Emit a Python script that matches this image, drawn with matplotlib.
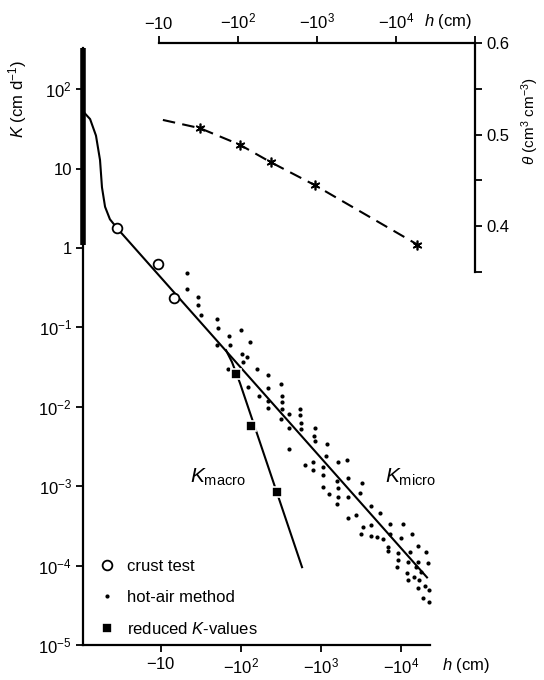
import matplotlib
matplotlib.use("Agg")
import matplotlib.pyplot as plt
from matplotlib.ticker import FixedLocator, NullLocator

plt.rcParams['font.family'] = ['Liberation Sans', 'DejaVu Sans']
plt.rcParams['mathtext.fontset'] = 'custom'
plt.rcParams['mathtext.rm'] = 'Liberation Sans'
plt.rcParams['mathtext.it'] = 'Liberation Sans:italic'
plt.rcParams['mathtext.bf'] = 'Liberation Sans:bold'

# --- K(h) curve (|h| in cm, K in cm/d) ---
k_curve_h = [1.09, 1.30, 1.54, 1.73, 1.83, 2.0, 2.3, 2.82, 21100]
k_curve_K = [51, 42, 26, 12.8, 5.8, 3.3, 2.3, 1.78, 7.1e-5]
k_sat_h = [1.06, 1.06]
k_sat_K = [1.1, 330]

k_macro_h = [64.9, 77.2, 97.2, 579]
k_macro_K = [0.0516, 0.0365, 0.0198, 9.55e-5]

crust_h = [2.82, 9.2, 14.5]
crust_K = [1.78, 0.625, 0.233]

reduced_h = [86.6, 133, 282]
reduced_K = [0.0257, 0.0057, 0.00084]

hot_air_h = [21, 21, 29, 29, 32, 50, 52, 100, 71, 50, 73, 130, 103, 119, 106, 69,
             158, 218, 122, 218, 316, 168, 325, 218, 325, 218, 325, 398, 316, 398,
             398, 546, 546, 562, 562, 841, 818, 841, 1190, 631, 794, 794, 1060,
             1150, 1630, 2110, 1060, 1060, 1585, 2175, 1630, 1260, 1630, 1585,
             2175, 3070, 3250, 2175, 2740, 4220, 5460, 3350, 4220, 3160, 4220,
             5010, 5960, 7290, 7290, 10600, 10000, 13700, 6880, 6880, 9170, 9170,
             8910, 12960, 16300, 20500, 12200, 16300, 15400, 17800, 21700, 11900,
             12200, 14500, 16800, 20000, 16300, 18800, 22400, 22400]
hot_air_K = [0.48, 0.30, 0.24, 0.19, 0.143, 0.127, 0.098, 0.092, 0.077, 0.060,
             0.060, 0.065, 0.046, 0.042, 0.0365, 0.0298, 0.0298, 0.025, 0.0177,
             0.0171, 0.0193, 0.0136, 0.0136, 0.0118, 0.0114, 0.0096, 0.0093,
             0.0081, 0.0070, 0.0054, 0.0029, 0.0093, 0.0078, 0.0062, 0.0052,
             0.0054, 0.0043, 0.0037, 0.0034, 0.00184, 0.0020, 0.00159, 0.00173,
             0.0024, 0.0020, 0.00212, 0.00138, 0.00097, 0.00116, 0.00126, 0.00094,
             0.00079, 0.00073, 0.00059, 0.00073, 0.00082, 0.00109, 0.000395,
             0.000431, 0.00056, 0.000457, 0.000305, 0.000323, 0.000248, 0.000234,
             0.000228, 0.000215, 0.000332, 0.000248, 0.000332, 0.000221, 0.000248,
             0.000152, 0.000171, 0.000143, 0.000117, 0.0000955, 0.000148, 0.000175,
             0.000148, 0.000110, 0.000110, 0.0000955, 0.0000826, 0.000107,
             0.0000802, 0.0000655, 0.0000714, 0.0000655, 0.0000551, 0.0000519,
             0.0000388, 0.0000346, 0.000049]
assert len(hot_air_h) == len(hot_air_K)

# --- theta(h) curve ---
theta_line_h = [11.2, 33, 105, 258, 930, 18600]
theta_line = [0.516, 0.507, 0.489, 0.470, 0.445, 0.380]
theta_star_h = [33, 105, 258, 930, 18600]
theta_star = [0.507, 0.489, 0.470, 0.445, 0.380]

k_ticks = [1e-5, 1e-4, 1e-3, 1e-2, 1e-1, 1, 10, 100]
k_tick_labels = [r'$10^{-5}$', r'$10^{-4}$', r'$10^{-3}$', r'$10^{-2}$',
                 r'$10^{-1}$', '1', '10', r'$10^{2}$']
h_ticks = [10, 100, 1000, 10000]
h_tick_labels = [r'$-10$', r'$-10^{2}$', r'$-10^{3}$', r'$-10^{4}$']
theta_ticks = [0.4, 0.5, 0.6]

W, H = 544, 680
fig = plt.figure(figsize=(W / 100, H / 100), dpi=100)
fig.patch.set_facecolor('white')

# main axes
ax = fig.add_axes([83 / W, 1 - 645 / H, (430 - 83) / W, (645 - 48) / H])
ax.set_xscale('log')
ax.set_yscale('log')
ax.set_xlim(1.06, 23000)
ax.set_ylim(1e-5, 330)
for s in ['top', 'right']:
    ax.spines[s].set_visible(False)
for s in ['left', 'bottom']:
    ax.spines[s].set_linewidth(1.6)

ax.plot(k_sat_h, k_sat_K, color='black', lw=4, solid_capstyle='butt', clip_on=False, zorder=4)
ax.plot(k_curve_h, k_curve_K, color='black', lw=1.5, zorder=3)
ax.plot(k_macro_h, k_macro_K, color='black', lw=1.5, zorder=3)
ax.plot(crust_h, crust_K, 'o', ms=7, mfc='white', mec='black', mew=1.3,
        zorder=5, label='crust test')
ax.plot(hot_air_h, hot_air_K, 'o', ms=3, color='black', mew=0,
        zorder=4, label='hot-air method', clip_on=False)
ax.plot(reduced_h, reduced_K, 's', ms=7.5, mfc='black', mec='white', mew=1.2,
        zorder=5, label=r'reduced $\mathit{K}$-values')

ax.yaxis.set_major_locator(FixedLocator(k_ticks))
ax.set_yticklabels(k_tick_labels)
ax.yaxis.set_minor_locator(NullLocator())
ax.xaxis.set_major_locator(FixedLocator(h_ticks))
ax.set_xticklabels(h_tick_labels)
ax.xaxis.set_minor_locator(NullLocator())
ax.tick_params(axis='both', which='major', direction='out', length=5, width=1.3,
               labelsize=12, pad=3)

ax.text(23, 1.3e-3, r'$\mathit{K}_{\mathrm{macro}}$', fontsize=15, va='center', ha='left')
ax.text(6300, 1.3e-3, r'$\mathit{K}_{\mathrm{micro}}$', fontsize=15, va='center', ha='left')

ax.text(1.035, -0.035, r'$\mathit{h}$ (cm)', transform=ax.transAxes, fontsize=12,
        ha='left', va='center')
ax.set_ylabel(r'$\mathit{K}$ (cm d$^{-1}$)', fontsize=12)
ax.yaxis.set_label_coords(-0.155, 0.915)

ax.legend(loc='lower left', bbox_to_anchor=(0.02, 0.0), frameon=False,
          fontsize=12, handlelength=1.0, handletextpad=0.7, labelspacing=0.95,
          borderaxespad=0.1)

# theta inset
ax2 = fig.add_axes([159 / W, 1 - 272 / H, (475 - 159) / W, (272 - 43) / H])
ax2.patch.set_alpha(0)
ax2.set_xscale('log')
ax2.set_xlim(10, 1e5)
ax2.set_ylim(0.35, 0.6)
for s in ['left', 'bottom']:
    ax2.spines[s].set_visible(False)
for s in ['top', 'right']:
    ax2.spines[s].set_linewidth(1.6)
ax2.xaxis.tick_top()
ax2.yaxis.tick_right()
ax2.xaxis.set_major_locator(FixedLocator(h_ticks + [1e5]))
ax2.set_xticklabels(h_tick_labels + [''])
ax2.xaxis.set_minor_locator(NullLocator())
ax2.yaxis.set_major_locator(FixedLocator(theta_ticks))
ax2.yaxis.set_minor_locator(FixedLocator([0.35, 0.45, 0.55]))
ax2.tick_params(axis='both', which='major', direction='out', length=5, width=1.3,
                labelsize=12, pad=3)
ax2.tick_params(axis='y', which='minor', direction='out', length=5, width=1.3)

ax2.plot(theta_line_h, theta_line, color='black', lw=1.5, dashes=(6, 3.5))
ax2.plot(theta_star_h, theta_star, ls='none', marker=(6, 2, 0), ms=7, mew=1.2,
         color='black')

ax2.text(0.84, 1.095, r'$\mathit{h}$ (cm)', transform=ax2.transAxes, fontsize=12,
         ha='left', va='center')
ax2.set_ylabel(r'$\theta$ (cm$^{3}$ cm$^{-3}$)', fontsize=11, rotation=90)
ax2.yaxis.set_label_position('right')
ax2.yaxis.set_label_coords(1.14, 0.66)

fig.savefig('out.png', dpi=100, facecolor='white')
